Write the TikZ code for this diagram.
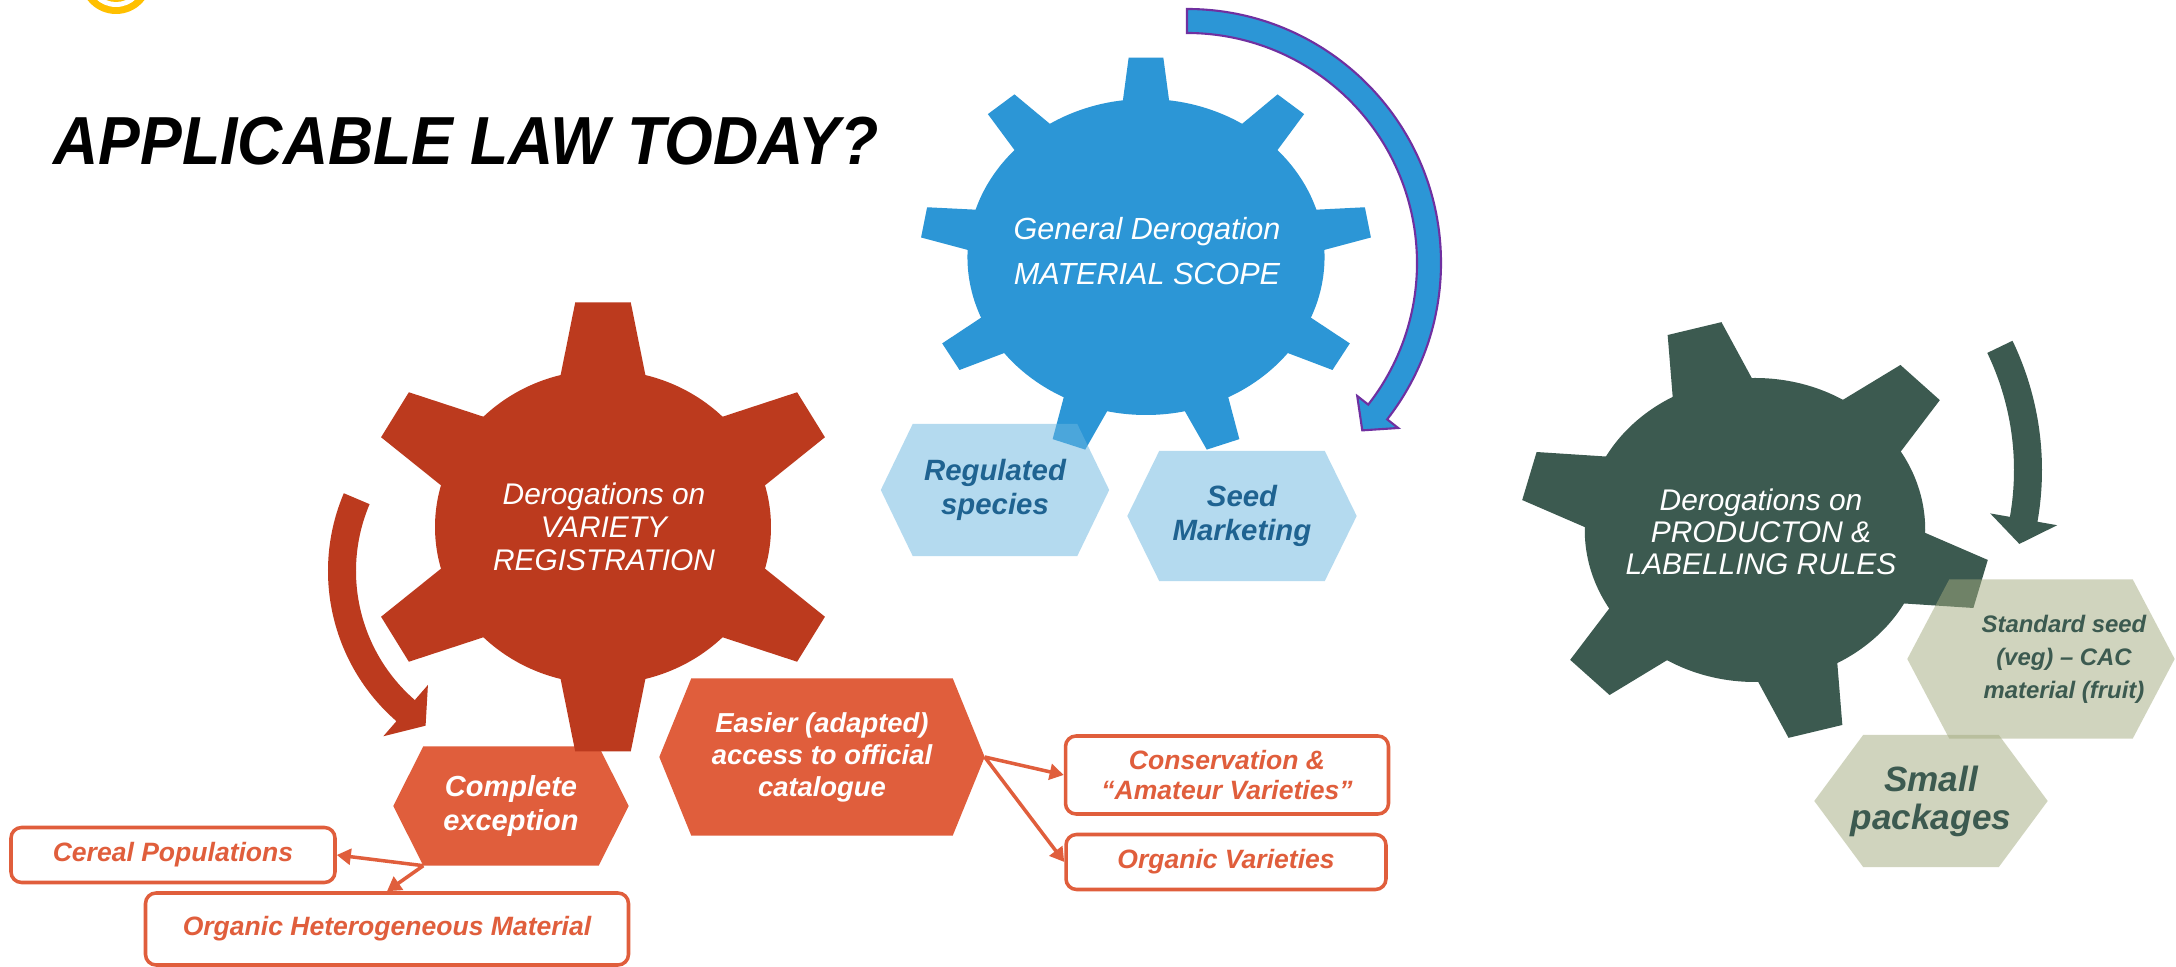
\documentclass[tikz,border=0pt]{standalone}
\usepackage{fontspec}
\setmainfont{Liberation Sans}
\newfontfamily\titlefont[FakeStretch=0.92]{Liberation Sans}
\usetikzlibrary{calc,arrows.meta,backgrounds}

\definecolor{gearred}{RGB}{188,58,30}
\definecolor{gearblue}{RGB}{44,150,214}
\definecolor{geargreen}{RGB}{60,90,80}
\definecolor{hexorange}{RGB}{224,94,60}
\definecolor{hexblue}{RGB}{107,182,225}
\definecolor{hexolive}{RGB}{163,171,127}
\definecolor{txtblue}{RGB}{31,99,145}
\definecolor{arrpurple}{RGB}{112,48,160}
\definecolor{logoyellow}{RGB}{255,192,0}

\newcommand\setfs[2]{\fontsize{#1}{#2}\selectfont}

% gear: centre, xscale, inner r, outer r, first tooth, step, last index, base half angle, tip half angle
\newcommand\drawgear[9]{%
  \begin{scope}[shift={#1}, xscale=#2, yscale=-1]
    \fill (0,0) circle (#3);
    \foreach \k in {0,...,#7}{
      \pgfmathsetmacro\ta{#5+#6*\k}
      \fill ({\ta-#8}:{#3-6}) -- ({\ta-#9}:#4) -- ({\ta+#9}:#4) -- ({\ta+#8}:{#3-6}) -- cycle;
    }
  \end{scope}}

% hexagon behind a node: node, inset, colour, opacity
\newcommand\hexfill[4]{%
  \fill[#3, fill opacity=#4] (#1.west) -- ($(#1.north west)+(#2,0)$) -- ($(#1.north east)+(-#2,0)$)
    -- (#1.east) -- ($(#1.south east)+(-#2,0)$) -- ($(#1.south west)+(#2,0)$) -- cycle;}

\tikzset{
  geartext/.style={text=white, align=center, inner sep=0pt},
  hexnode/.style={inner sep=0pt, align=center},
  catbox/.style={draw=hexorange, line width=1pt, rounded corners=3pt, fill=white,
    text=hexorange, inner sep=0pt, align=center,
    font=\bfseries\itshape\setfs{7.55}{8.6}},
  conn/.style={hexorange, line width=1pt, -{Triangle[length=4pt,width=4.5pt]}}
}

\begin{document}
\begin{tikzpicture}[x=0.1mm, y=-0.1mm]
  \useasboundingbox (0,0) rectangle (2176,967);

  \node[anchor=base west, inner sep=0pt, font=\titlefont\bfseries\itshape\setfs{19.35}{23}] (title) at (53,165) {APPLICABLE LAW TODAY?};

  % gear labels
  \node[geartext, font=\itshape\setfs{8.7}{12.8}] (gscope) at (1147,251) {General Derogation\\MATERIAL SCOPE};
  \node[geartext, font=\itshape\setfs{8.5}{9.3}] (gvar) at (604,527) {Derogations on\\VARIETY\\REGISTRATION};
  \node[geartext, font=\itshape\setfs{8.5}{9.1}] (gprod) at (1761,532) {Derogations on\\PRODUCTON \&\\LABELLING RULES};

  % hexagons
  \node[hexnode, minimum width=22.7mm, minimum height=13.1mm, text=txtblue, font=\bfseries\itshape\setfs{8.35}{9.8}] (rs) at (995,490) {Regulated\\species};
  \node[hexnode, minimum width=22.8mm, minimum height=12.9mm, text=txtblue, font=\bfseries\itshape\setfs{8.35}{9.8}] (sm) at (1242,516) {Seed\\Marketing};
  \node[hexnode, minimum width=23.4mm, minimum height=11.8mm, text=white, font=\bfseries\itshape\setfs{8.25}{9.4}] (ce) at (511,806) {Complete\\exception};
  \node[hexnode, minimum width=32.4mm, minimum height=15.6mm, text=white, font=\bfseries\itshape\setfs{7.8}{9.1}] (ea) at (822,757) {Easier (adapted)\\access to official\\catalogue};
  \node[hexnode, minimum width=26.6mm, minimum height=15.8mm, text=geargreen, font=\bfseries\itshape\setfs{6.8}{9.3}] (ss) at (2041,659)
    {\begin{tabular}{@{\hspace{4.6mm}}c@{}}Standard seed\\(veg) – CAC\\material (fruit)\end{tabular}};
  \node[hexnode, minimum width=23.2mm, minimum height=13.1mm, text=geargreen, font=\bfseries\itshape\setfs{10}{10.8}] (sp) at (1931,801) {Small\\packages};

  % boxes
  \node[catbox, minimum width=32.4mm, minimum height=5.5mm] (cp) at (173,855) {Cereal Populations};
  \node[catbox, minimum width=48.3mm, minimum height=7.2mm] (ohm) at (387,929) {Organic Heterogeneous Material};
  \node[catbox, minimum width=32.3mm, minimum height=7.8mm] (cv) at (1227,775) {Conservation \&\\“Amateur Varieties”};
  \node[catbox, minimum width=32mm, minimum height=5.5mm] (ov) at (1226,862) {Organic Varieties};

  \coordinate (ce-foot) at ($(ce.south west)+(30,0)$);
  \draw[conn] (ce-foot) -- (cp.east);
  \draw[conn] (ce-foot) -- (ohm.north);
  \draw[conn] (ea.east) -- (cv.west);
  \draw[conn] (ea.east) -- (ov.west);

  \begin{scope}[on background layer]
    \clip (0,0) rectangle (2176,967);
    \fill[white] (0,0) rectangle (2176,967);
    % logo
    \fill[logoyellow] (116,-22) circle (36);
    \fill[white] (116,-22) circle (29);
    \fill[logoyellow] (116,-22) circle (24);

    % blue gear and arrow
    \begin{scope}[shift={(1187,263)}, yscale=-1]
      \fill[gearblue, draw=arrpurple, line width=0.6pt] (90:254) arc[start angle=90, end angle=-38, radius=254]
        -- (-38:268) -- ($(-38:242)+(-130:24)$) -- (-38:216) -- (-38:230)
        arc[start angle=-38, end angle=90, radius=230] -- cycle;
    \end{scope}
    \begin{scope}[fill=gearblue]
      \drawgear{(1146,257)}{1.13}{158}{200}{90}{40}{8}{8}{4.4}
    \end{scope}
    \hexfill{rs}{32}{hexblue}{0.5}
    \hexfill{sm}{32}{hexblue}{0.5}

    % red gear and arrow
    \hexfill{ce}{30}{hexorange}{1}
    \hexfill{ea}{32}{hexorange}{1}
    \begin{scope}[fill=gearred]
      \drawgear{(603,527)}{1.07}{157}{226}{90}{60}{5}{15.7}{6.6}
    \end{scope}
    \begin{scope}[shift={(527,571)}, yscale=-1]
      \fill[gearred] (157:199) arc[start angle=157, end angle=229, radius=199]
        -- (229:219) -- ($(229:185)+(323:25)$) -- (229:151) -- (229:171)
        arc[start angle=229, end angle=157, radius=171] -- cycle;
    \end{scope}

    % green gear and arrow
    \begin{scope}[fill=geargreen]
      \drawgear{(1755,530)}{1.12}{152}{210}{105}{60}{5}{15}{6.8}
    \end{scope}
    \begin{scope}[shift={(1744,470)}, yscale=-1]
      \fill[geargreen] (25.7:298) arc[start angle=25.7, end angle=-10, radius=298]
        -- (-10:318) -- ($(-10:284)+(-100:25)$) -- (-10:250) -- (-10:270)
        arc[start angle=-10, end angle=25.7, radius=270] -- cycle;
    \end{scope}
    \hexfill{ss}{42}{hexolive}{0.5}
    \hexfill{sp}{49}{hexolive}{0.5}
  \end{scope}
\end{tikzpicture}
\end{document}
